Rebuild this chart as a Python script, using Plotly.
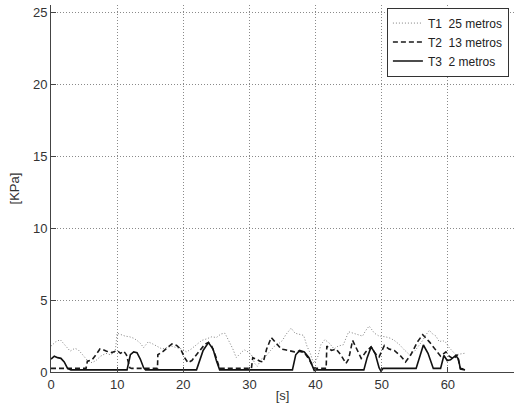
import plotly.graph_objects as go

# ---- data ----
t1_t = [0, 0.7, 1.4, 2.1, 2.9, 3.6, 4.1, 4.6, 5.1, 5.6, 6.2, 6.8, 7.5, 8.3, 9.0, 9.7, 10.0, 10.6, 11.2, 11.9,
        12.5, 13.0, 13.5, 14.0, 14.7, 15.4, 16.1, 16.8, 17.5, 18.2, 19.0, 19.8, 20.5, 21.2, 22.0, 22.8, 23.5,
        24.3, 25.0, 25.7, 26.3, 26.9, 27.5, 28.0, 28.6, 29.2, 29.8, 30.3, 30.8, 31.2, 31.8, 32.5, 33.2, 33.8,
        34.5, 35.0, 35.5, 36.3, 36.9, 37.6, 38.2, 38.7, 39.2, 39.7, 40.3, 40.8, 41.4, 42.1, 42.8, 43.4, 44.2,
        45.0, 45.7, 46.4, 47.1, 47.6, 48.1, 48.9, 49.6, 50.6, 51.3, 51.9, 52.7, 53.4, 54.2, 54.9, 55.6, 56.2,
        56.7, 57.2, 57.7, 58.2, 58.7, 59.2, 59.7, 60.2, 60.7, 61.2, 61.8, 62.5]
t1_v = [1.8, 2.1, 2.25, 1.9, 1.45, 1.65, 1.55, 1.3, 1.0, 0.75, 0.65, 0.8, 1.1, 1.3, 1.2, 1.4, 2.7, 2.6, 2.5, 2.45,
        2.35, 2.2, 2.0, 1.7, 2.1, 1.95, 1.75, 1.6, 1.7, 1.8, 1.7, 1.6, 1.4, 1.6, 1.9, 2.2, 2.3,
        2.45, 2.4, 2.65, 2.7, 2.2, 1.6, 1.0, 1.3, 1.55, 1.4, 1.2, 0.6, 0.4, 0.9, 1.1, 1.5, 1.8,
        2.0, 2.2, 2.6, 3.05, 2.7, 2.6, 2.55, 1.8, 1.3, 0.6, 1.0, 1.9, 2.25, 2.0, 1.6, 1.8, 1.9,
        2.8, 2.7, 2.6, 2.5, 2.9, 3.2, 2.7, 2.5, 2.45, 2.35, 2.2, 1.9, 1.55, 1.2, 1.4, 1.8, 2.2,
        2.6, 2.9, 2.65, 2.5, 2.1, 2.2, 2.05, 1.7, 1.45, 1.2, 1.25, 1.3]

t2_t = [0, 5.3, 5.5, 6.2, 6.8, 7.4, 7.9, 8.4, 9.2, 9.7, 10.0, 10.5, 11.0, 11.4, 11.9, 12.2, 16.1, 16.15, 17.0,
        17.6, 18.3, 19.0, 19.6, 20.2, 20.7, 21.3, 22.0, 22.7, 23.3, 23.8, 24.3, 24.9, 25.5, 30.3, 30.5, 31.0,
        31.6, 32.1, 32.6, 33.3, 34.0, 34.8, 35.4, 36.0, 36.8, 37.5, 38.3, 39.0, 39.7, 40.0, 41.6, 41.7, 42.4,
        43.1, 43.8, 44.6, 45.0, 45.6, 46.1, 46.9, 47.6, 48.4, 49.0, 49.6, 50.4, 51.1, 51.9, 52.9, 53.6, 54.4,
        55.4, 56.2, 57.2, 58.2, 58.9, 59.7, 60.2, 60.9, 61.4, 61.9, 62.5]
t2_v = [0.25, 0.25, 0.75, 0.85, 1.2, 1.6, 1.55, 1.45, 1.35, 1.45, 1.5, 1.3, 1.45, 1.2, 0.3, 0.25, 0.25, 1.2, 1.45,
        1.7, 1.95, 1.85, 1.6, 1.0, 0.65, 0.8, 1.2, 1.6, 1.95, 2.05, 1.8, 1.1, 0.25, 0.25, 1.0, 0.9,
        0.75, 0.7, 1.6, 2.4, 2.0, 1.6, 1.55, 1.5, 1.4, 1.45, 1.35, 0.9, 0.3, 0.25, 0.25, 1.8, 1.5,
        1.6, 1.2, 0.6, 0.9, 2.2, 1.7, 0.95, 1.4, 1.75, 1.3, 1.05, 1.85, 1.6, 1.5, 1.1, 0.7, 1.2,
        2.1, 2.6, 2.1, 1.5, 1.1, 1.4, 1.1, 0.9, 1.2, 0.25, 0.2]

t3_t = [0, 0.5, 1.0, 1.5, 2.0, 2.5, 3.0, 11.5, 12.0, 12.5, 13.0, 13.5, 14.0, 14.3, 22.0, 22.5, 23.0, 23.8, 24.5,
        25.0, 25.5, 36.5, 37.0, 37.6, 38.3, 39.0, 39.8, 40.2, 47.3, 47.8, 48.4, 49.0, 49.6, 49.9, 50.2, 55.2,
        55.7, 56.3, 57.0, 57.8, 58.9, 59.4, 59.9, 60.4, 61.2, 61.6, 61.9, 62.6]
t3_v = [0.9, 1.1, 1.0, 0.95, 0.7, 0.25, 0.15, 0.15, 1.2, 1.4, 1.35, 0.9, 0.3, 0.15, 0.15, 0.8, 1.5, 2.05, 1.6,
        0.8, 0.15, 0.15, 1.2, 1.5, 1.4, 1.0, 0.1, 0.15, 0.15, 1.0, 1.75, 1.3, 0.3, 0.05, 0.25, 0.25,
        1.0, 1.88, 1.3, 0.25, 0.25, 1.15, 0.8, 0.85, 1.15, 0.9, 0.2, 0.15]

names = ["T1\u00a0\u00a025 metros", "T2\u00a0\u00a013 metros", "T3\u00a0\u00a02 metros"]
x_ticks = [0, 10, 20, 30, 40, 50, 60, 70]
y_ticks = [0, 5, 10, 15, 20, 25]

FONT = "Arial, Liberation Sans, sans-serif"

fig = go.Figure()
fig.add_trace(go.Scatter(x=t1_t, y=t1_v, mode="lines", name=names[0],
                         line=dict(color="#808080", width=1, dash="1px,2px")))
fig.add_trace(go.Scatter(x=t2_t, y=t2_v, mode="lines", name=names[1],
                         line=dict(color="#1a1a1a", width=1.6, dash="5px,3px")))
fig.add_trace(go.Scatter(x=t3_t, y=t3_v, mode="lines", name=names[2],
                         line=dict(color="#111111", width=1.6)))

fig.update_layout(
    width=521, height=415,
    margin=dict(l=51, r=7, t=5, b=43),
    paper_bgcolor="white", plot_bgcolor="white",
    font=dict(family=FONT, size=13, color="#333"),
    showlegend=True,
    legend=dict(x=0.989, y=0.993, xanchor="right", yanchor="top",
                bgcolor="white", bordercolor="#333", borderwidth=1,
                font=dict(family=FONT, size=12, color="#222"),
                tracegroupgap=0, itemwidth=30),
    xaxis=dict(range=[0, 70], tickvals=x_ticks, ticks="inside", ticklen=5, tickcolor="#444",
               showline=True, linecolor="#444", linewidth=1,
               showgrid=True, gridcolor="#8a8a8a", griddash="1px,2px", gridwidth=1,
               zeroline=False, title=dict(text="[s]", standoff=0, font=dict(size=13))),
    yaxis=dict(range=[0, 25.55], tickvals=y_ticks, ticks="inside", ticklen=5, tickcolor="#444",
               showline=True, linecolor="#444", linewidth=1,
               showgrid=True, gridcolor="#8a8a8a", griddash="1px,2px", gridwidth=1,
               zeroline=False, title=dict(text="[KPa]", standoff=10, font=dict(size=13))),
)

fig.write_html("out.html")
